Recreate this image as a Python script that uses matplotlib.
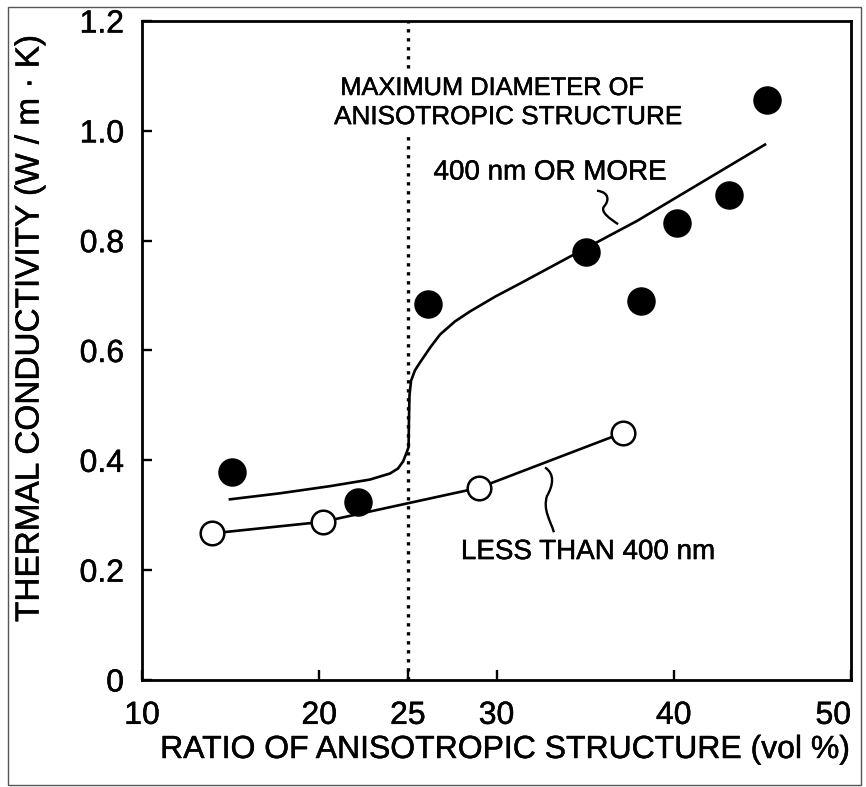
import numpy as np
import matplotlib
matplotlib.use("Agg")
import matplotlib.pyplot as plt
import matplotlib.patheffects as pe
from matplotlib.patches import Rectangle, PathPatch
from matplotlib.path import Path

plt.rcParams['font.family'] = ['Liberation Sans', 'DejaVu Sans']

# measured points
filled_x = [15.06, 22.17, 26.15, 35.03, 38.13, 40.21, 43.12, 45.24]
filled_y = [0.378, 0.324, 0.685, 0.780, 0.691, 0.833, 0.883, 1.056]
open_x = [13.96, 20.19, 29.01, 37.12]
open_y = [0.267, 0.288, 0.350, 0.450]

# fitted curve for "400 nm OR MORE"
fit_x = [14.96, 17.79, 20.61, 22.86, 23.99, 24.44, 24.73, 24.89, 25.04, 25.06,
         25.09, 25.18, 25.40, 25.68, 26.25, 26.81, 27.66, 28.50, 29.92, 31.33,
         34.15, 37.93, 45.15]
fit_y = [0.329, 0.340, 0.353, 0.365, 0.376, 0.385, 0.398, 0.411, 0.424, 0.473,
         0.518, 0.545, 0.564, 0.578, 0.605, 0.629, 0.653, 0.671, 0.698, 0.722,
         0.771, 0.836, 0.975]

x_ticks = [10, 20, 25, 30, 40, 50]
y_ticks = [0, 0.2, 0.4, 0.6, 0.8, 1.0, 1.2]
y_ticklabels = ['0', '0.2', '0.4', '0.6', '0.8', '1.0', '1.2']
boundary = 25

# scanned print looks a bit heavy, thicken the glyphs a little
thick = [pe.withStroke(linewidth=0.35, foreground='black')]

fig = plt.figure(figsize=(8.66, 7.87), dpi=100)
ax = fig.add_axes([142 / 866, 1 - 680 / 787, 709 / 866, 659 / 787])

ax.set_xlim(10, 50)
ax.set_ylim(0, 1.2)

ax.axvline(boundary, color='black', lw=2.4, linestyle=(0, (1.0, 1.7)), zorder=1)

ax.plot(fit_x, fit_y, color='black', lw=1.9, zorder=2)
ax.plot(open_x, open_y, color='black', lw=1.9, zorder=2)
ax.plot(filled_x, filled_y, 'o', color='black', markersize=19.5, zorder=4)
ax.plot(open_x, open_y, 'o', markerfacecolor='white', markeredgecolor='black',
        markeredgewidth=1.8, markersize=17, zorder=4)

# labels
tb = dict(facecolor='white', edgecolor='none', pad=4)
ax.text(29.75, 1.078, 'MAXIMUM DIAMETER OF', ha='center', va='center', fontsize=18.3,
        bbox=tb, zorder=3, path_effects=thick)
ax.text(30.65, 1.025, 'ANISOTROPIC STRUCTURE', ha='center', va='center', fontsize=18.8,
        bbox=tb, zorder=3, path_effects=thick)
ax.text(33.02, 0.924, '400 nm OR MORE', ha='center', va='center', fontsize=20, path_effects=thick)
ax.text(35.16, 0.233, 'LESS THAN 400 nm', ha='center', va='center', fontsize=20, path_effects=thick)

# squiggle leaders
def squiggle(pts):
    codes = [Path.MOVETO] + [Path.CURVE4] * (len(pts) - 1)
    ax.add_patch(PathPatch(Path(pts, codes), fill=False, lw=1.7, color='black', zorder=3))

squiggle([(35.67, 0.891), (36.40, 0.888), (36.35, 0.872), (36.06, 0.862),
          (35.85, 0.852), (36.40, 0.840), (36.86, 0.830)])
squiggle([(32.74, 0.387), (33.30, 0.375), (33.20, 0.355), (32.85, 0.335),
          (32.60, 0.310), (33.05, 0.290), (33.24, 0.269)])

ax.set_xticks(x_ticks)
ax.set_xticklabels([str(t) for t in x_ticks])
ax.set_yticks(y_ticks)
ax.set_yticklabels(y_ticklabels)
ax.tick_params(direction='in', length=7, width=1.7, labelsize=23, pad=13)
ax.tick_params(axis='x', pad=15)
for lab in ax.get_xticklabels() + ax.get_yticklabels():
    lab.set_path_effects(thick)
# last label sits against the right border in the original
ax.get_xticklabels()[-1].set_ha('right')
for s in ax.spines.values():
    s.set_linewidth(2.0)

ax.set_xlabel('RATIO OF ANISOTROPIC STRUCTURE (vol %)', fontsize=23, path_effects=thick)
ax.xaxis.set_label_coords((506 - 142) / 709, -(750 - 680) / 659)
ax.set_ylabel('THERMAL CONDUCTIVITY (W / m · K)', fontsize=24, path_effects=thick)
ax.yaxis.set_label_coords(-(142 - 30) / 709, (680 - 328) / 659)
ax.xaxis.label.set_va('center')
ax.yaxis.label.set_va('center')

fig.patches.append(Rectangle((8 / 866, 2 / 787), 853 / 866, 778 / 787, transform=fig.transFigure,
                             fill=False, edgecolor='#555555', lw=1))

fig.savefig('out.png', dpi=100)
